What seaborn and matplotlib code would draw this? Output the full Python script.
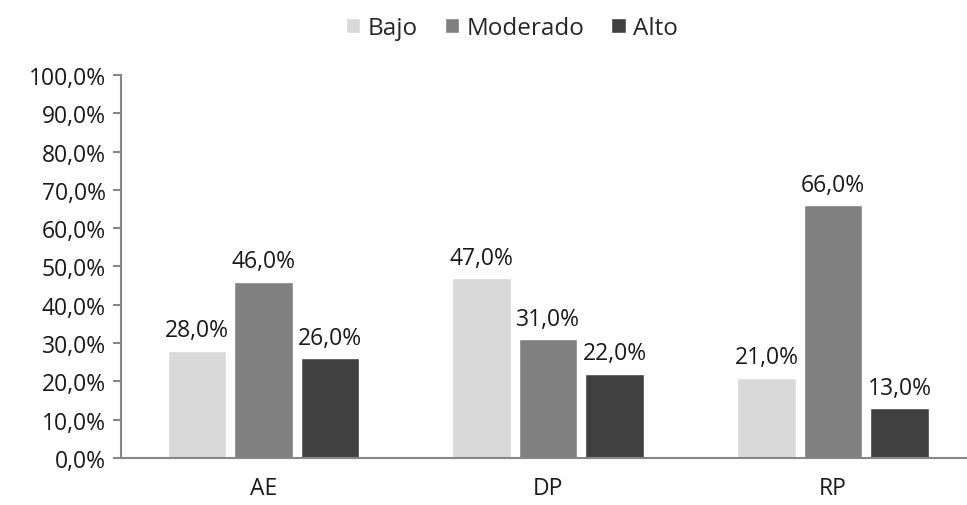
import matplotlib
matplotlib.use("Agg")
import matplotlib.pyplot as plt
import matplotlib.ticker as mticker
import seaborn as sns
import pandas as pd

# Data
categories = ["AE", "DP", "RP"]
levels = ["Bajo", "Moderado", "Alto"]
bajo = [28.0, 47.0, 21.0]
moderado = [46.0, 31.0, 66.0]
alto = [26.0, 22.0, 13.0]

palette = ["#d9d9d9", "#808080", "#404040"]

df = pd.DataFrame({
    "cat": categories * 3,
    "nivel": [levels[0]] * 3 + [levels[1]] * 3 + [levels[2]] * 3,
    "pct": bajo + moderado + alto,
})

sns.set_style("white")
plt.rcParams['font.family'] = ['Open Sans', 'DejaVu Sans']

fig, ax = plt.subplots(figsize=(9.67, 5.06), dpi=100)
fig.subplots_adjust(left=0.125, right=1.0, top=0.85, bottom=0.093)

sns.barplot(data=df, x="cat", y="pct", hue="nivel", hue_order=levels,
            palette=palette, width=0.7, gap=0.12, ax=ax, legend=True,
            saturation=1)

fs = 16.5
for cont in ax.containers:
    ax.bar_label(cont, labels=[f"{v:.1f}%".replace(".", ",") for v in cont.datavalues],
                 padding=6, fontsize=fs, color="#1a1a1a")

ax.set_ylim(0, 100)
ax.set_xlim(-0.5, 2.47)
ax.yaxis.set_major_locator(mticker.MultipleLocator(10))
ax.yaxis.set_major_formatter(mticker.FuncFormatter(lambda v, p: f"{v:.1f}%".replace(".", ",")))
ax.set_xlabel("")
ax.set_ylabel("")

# ticks on x at category boundaries
ax.set_xticks([0, 1, 2])
ax.tick_params(axis="x", length=0, labelsize=fs, pad=13, colors="#1a1a1a")
ax.set_xticks([-0.5, 0.5, 1.5], minor=True)
ax.tick_params(axis="x", which="minor", length=6, width=1.5, color="#868686")
ax.tick_params(axis="y", length=6, width=1.5, color="#868686", labelsize=fs,
               labelcolor="#1a1a1a", left=True, pad=5)

for side in ["top", "right"]:
    ax.spines[side].set_visible(False)
for side in ["left", "bottom"]:
    ax.spines[side].set_color("#868686")
    ax.spines[side].set_linewidth(1.5)

handles, labels = ax.get_legend_handles_labels()
ax.legend(handles, labels, loc="upper center", bbox_to_anchor=(0.462, 1.21),
          ncol=3, frameon=False, fontsize=17.5, handlelength=0.6, handleheight=0.6,
          handletextpad=0.3, columnspacing=1.1)

fig.savefig("out.png", dpi=100)
